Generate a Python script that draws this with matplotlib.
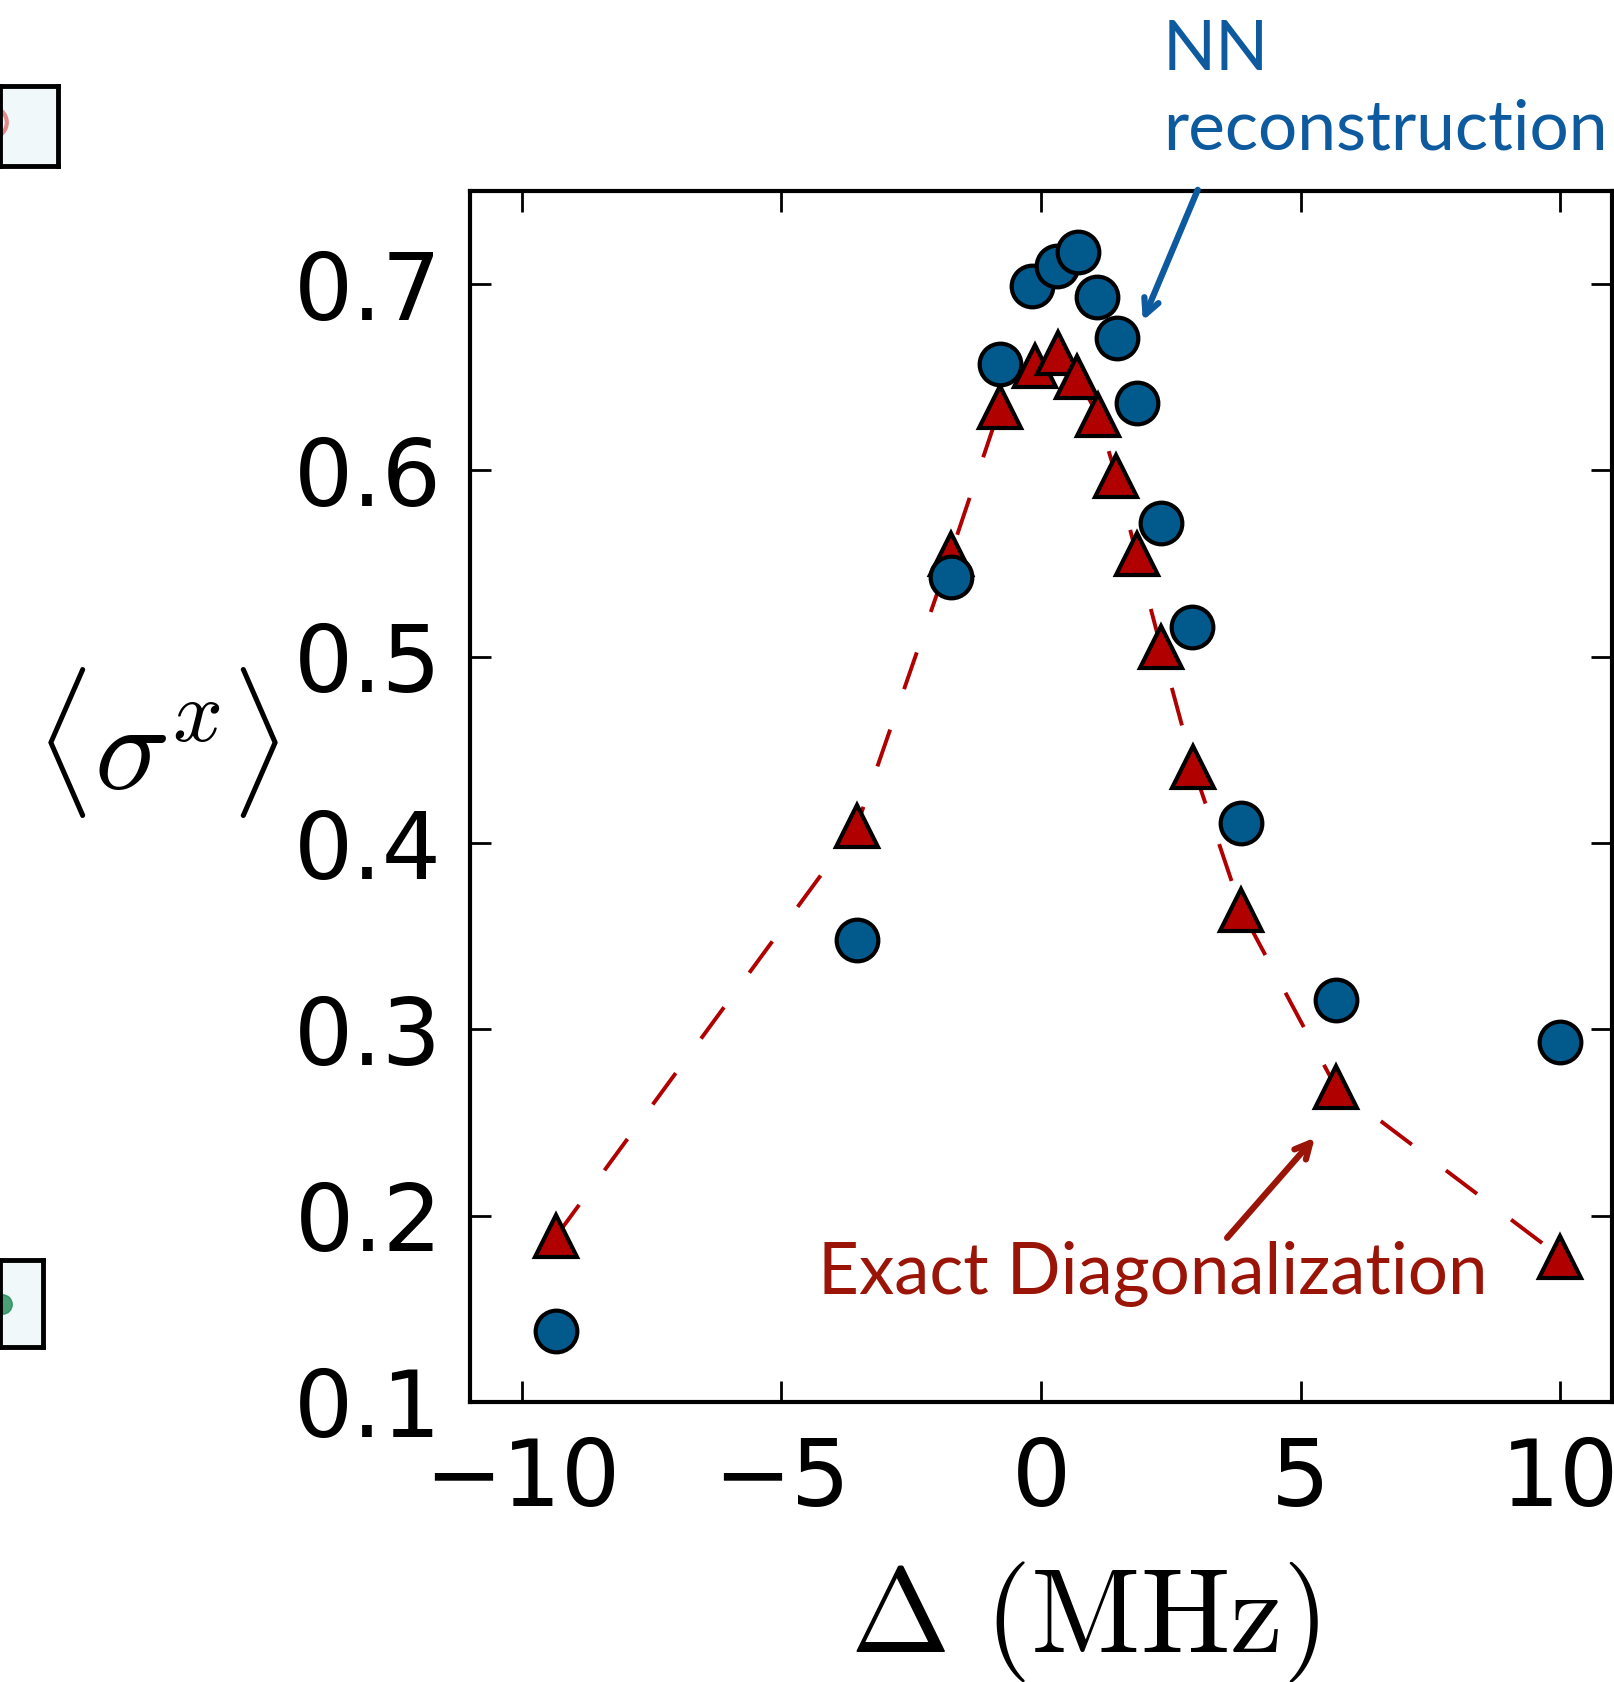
import numpy as np
import matplotlib.pyplot as plt

plt.rcParams['mathtext.fontset'] = 'cm'

# NN reconstruction (blue circles)
nn_delta = [-9.34, -3.55, -1.74, -0.79, -0.17, 0.31, 0.72, 1.07, 1.47,
            1.84, 2.31, 2.91, 3.86, 5.68, 10.0]
nn_sx = [0.138, 0.348, 0.543, 0.657, 0.699, 0.710, 0.717, 0.693, 0.671,
         0.636, 0.572, 0.516, 0.411, 0.316, 0.293]

# Exact diagonalization (red triangles + dashed line)
ed_delta = [-9.34, -3.55, -1.74, -0.79, -0.12, 0.33, 0.70, 1.09, 1.45,
            1.84, 2.31, 2.93, 3.86, 5.68, 10.0]
ed_sx = [0.189, 0.409, 0.555, 0.634, 0.656, 0.663, 0.650, 0.630, 0.597,
         0.555, 0.505, 0.441, 0.364, 0.269, 0.178]

xticks = [-10, -5, 0, 5, 10]
yticks = [0.1, 0.2, 0.3, 0.4, 0.5, 0.6, 0.7]

blue = '#02598c'
red = '#b00000'
blue_txt = '#0d5a9e'
red_txt = '#9a1408'

W, H = 1614, 1682
fig = plt.figure(figsize=(W / 100, H / 100), dpi=100)

# main axes
ax = fig.add_axes([470 / W, 1 - 1402 / H, (1612 - 470) / W, (1402 - 191) / H])
ax.plot(ed_delta, ed_sx, '--', color=red, lw=2.8, dashes=(10, 11), zorder=1)
ax.plot(ed_delta, ed_sx, '^', ms=30, mfc=red, mec='black', mew=3, zorder=2)
ax.plot(nn_delta, nn_sx, 'o', ms=30, mfc=blue, mec='black', mew=3, zorder=3)

ax.set_xlim(-11, 11)
ax.set_ylim(0.1, 0.75)
ax.set_xticks(xticks)
ax.set_yticks(yticks)
ax.set_yticklabels(['%.1f' % v for v in yticks])
ax.tick_params(direction='in', length=15, width=2, labelsize=67,
               top=True, right=True)
ax.tick_params(axis='y', pad=20)
ax.tick_params(axis='x', pad=24)
for s in ax.spines.values():
    s.set_linewidth(3)

# axis labels
fig.text(1085 / W, 1 - 1652 / H, r'$\Delta\ (\mathrm{MHz})$', fontsize=86,
         ha='center', va='baseline')
fig.text(157 / W, 1 - 743 / H, r'$\langle\sigma^x\rangle$', fontsize=90,
         ha='center', va='center')

# annotations
lab_font = dict(family=['Lato', 'DejaVu Sans'], weight='normal')
fig.text(1163 / W, 1 - 70 / H, 'NN', color=blue_txt, fontsize=50,
         ha='left', va='baseline', **lab_font)
fig.text(1163 / W, 1 - 150 / H, 'reconstruction', color=blue_txt,
         fontsize=50, ha='left', va='baseline', **lab_font)
head = '->,head_length=1.1,head_width=0.55'
ax.annotate('', xy=(1.94, 0.679), xytext=(3.04, 0.752),
            arrowprops=dict(arrowstyle=head, color=blue_txt, lw=4.5),
            annotation_clip=False)

fig.text(818 / W, 1 - 1294 / H, 'Exact Diagonalization', color=red_txt,
         fontsize=51, ha='left', va='baseline', **lab_font)
ax.annotate('', xy=(5.31, 0.243), xytext=(3.55, 0.187),
            arrowprops=dict(arrowstyle=head, color=red_txt, lw=4.5),
            annotation_clip=False)

# fragments of neighbouring panels at the left edge
for (x0, y0, x1, y1), col in [((0, 86, 58, 166), '#e38a8a'),
                              ((0, 1260, 43, 1347), '#1f8a55')]:
    sub = fig.add_axes([x0 / W, 1 - y1 / H, (x1 - x0) / W, (y1 - y0) / H])
    sub.set_facecolor('#f0f8fa')
    sub.set_xlim(0, 1)
    sub.set_ylim(0, 1)
    sub.set_xticks([])
    sub.set_yticks([])
    for s in sub.spines.values():
        s.set_linewidth(3.5)
    if col == '#e38a8a':
        sub.plot([-0.15], [0.55], 'o', ms=22, mfc='none', mec=col, mew=3)
    else:
        sub.plot([0.05], [0.5], 'o', ms=14, color=col, alpha=0.8)

fig.savefig('out.png', dpi=100)
